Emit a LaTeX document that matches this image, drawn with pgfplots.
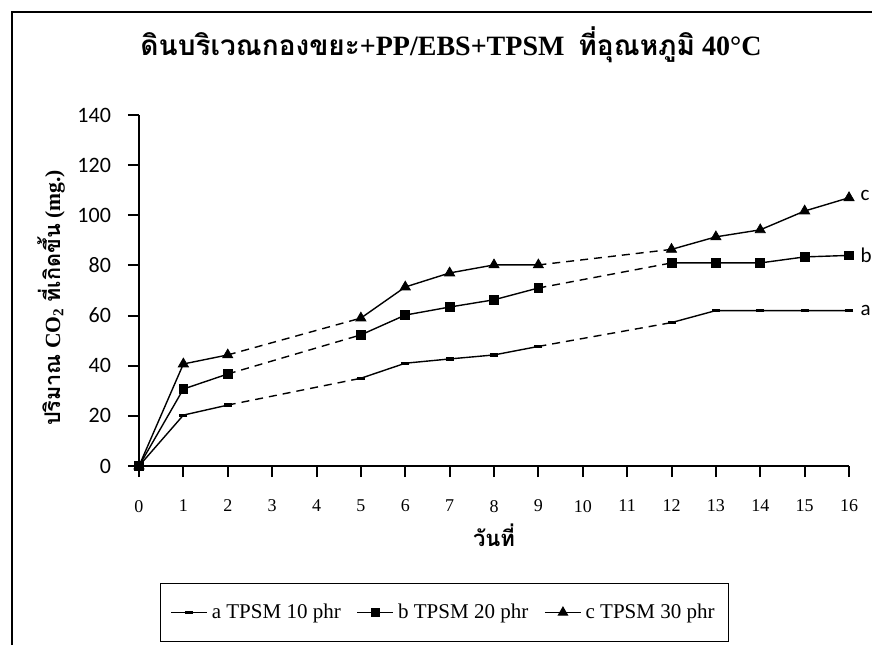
\documentclass[border=0pt]{standalone}
\usepackage{fontspec}
\setmainfont{Liberation Serif}
\newfontfamily\thai[Script=Thai]{Loma}
\newfontfamily\calib{Carlito}
\usepackage{pgfplots}
\pgfplotsset{compat=1.18}
\usepackage{pgfplotstable}

% CO2 evolved (mg) per day, three TPSM loadings
\pgfplotstableread{
day val
0 0
1 20.3
2 24.3
5 35.0
6 41.0
7 42.7
8 44.3
9 47.7
12 57.2
13 62.0
14 62.0
15 62.0
16 62.0
}\seriesA
\pgfplotstableread{
day val
0 0
1 30.7
2 36.7
5 52.3
6 60.2
7 63.4
8 66.3
9 71.0
12 81.0
13 81.0
14 81.0
15 83.4
16 84.0
}\seriesB
\pgfplotstableread{
day val
0 0
1 40.7
2 44.3
5 59.0
6 71.4
7 77.0
8 80.2
9 80.2
12 86.4
13 91.4
14 94.2
15 101.7
16 107.0
}\seriesC

\pgfplotsset{
  solidseg/.style={black, line width=0.7pt, no marks, forget plot},
  gapseg/.style={black, line width=0.7pt, no marks, forget plot, dash pattern=on 4pt off 3pt},
}

% solid runs on measured days, dashed across the days without readings
\newcommand\drawseries[2]{%
  \addplot[solidseg, restrict x to domain=0:2]  table[x=day,y=val]{#1};
  \addplot[gapseg,   restrict x to domain=2:5]  table[x=day,y=val]{#1};
  \addplot[solidseg, restrict x to domain=5:9]  table[x=day,y=val]{#1};
  \addplot[gapseg,   restrict x to domain=9:12] table[x=day,y=val]{#1};
  \addplot[solidseg, restrict x to domain=12:16] table[x=day,y=val]{#1};
  \addplot[only marks, forget plot, black, #2] table[x=day,y=val]{#1};
}

\begin{document}
\begin{tikzpicture}[x=1pt,y=1pt]
\useasboundingbox (0,0) rectangle (436,322.5);
% outer frame (left and top edges)
\draw[line width=1pt] (6,0) -- (6,316.5) -- (436,316.5);

\begin{axis}[
  at={(69.5pt,89.5pt)}, anchor=south west,
  scale only axis, width=355pt, height=175.5pt,
  xmin=0, xmax=16, ymin=0, ymax=140,
  clip=false,
  axis lines=left,
  axis line style={-, line width=1pt},
  tick style={line width=1pt, black},
  major tick length=5.5pt,
  tick align=outside,
  xtick={0,...,16},
  ytick={0,20,...,140},
  xticklabel style={font=\fontsize{9}{10}\selectfont, yshift=-8pt},
  yticklabel style={font=\calib\fontsize{11}{12}\selectfont, xshift=-5pt},
  /pgf/number format/assume math mode=true,
  legend columns=3,
  legend style={at={(0.4303,-0.4174)}, anchor=center, draw=black, line width=0.6pt,
    font=\fontsize{10.5}{12}\selectfont, inner xsep=5pt, inner ysep=8pt,
    /tikz/every even column/.append style={column sep=6pt}},
  legend image code/.code={\draw[mark repeat=2,mark phase=2,#1] plot coordinates {(0pt,0pt) (9pt,0pt) (18pt,0pt)};},
]
\drawseries{\seriesA}{mark=-, mark size=2pt, mark options={line width=1.6pt}}
\drawseries{\seriesB}{mark=square*, mark size=2.2pt}
\drawseries{\seriesC}{mark=triangle*, mark size=2.9pt}

\addlegendimage{black, line width=0.7pt, mark=-, mark size=2pt, mark options={line width=1.6pt}}
\addlegendentry{a TPSM 10 phr}
\addlegendimage{black, line width=0.7pt, mark=square*, mark size=2pt}
\addlegendentry{b TPSM 20 phr}
\addlegendimage{black, line width=0.7pt, mark=triangle*, mark size=2.5pt}
\addlegendentry{c TPSM 30 phr}

\node[right, font=\calib\fontsize{10.5}{11}\selectfont] at (axis cs:16.1,62) {a};
\node[right, font=\calib\fontsize{10.5}{11}\selectfont] at (axis cs:16.1,84) {b};
\node[right, font=\calib\fontsize{10.5}{11}\selectfont] at (axis cs:16.1,108) {c};
\end{axis}

% title
\node[font=\fontsize{14}{16}\selectfont\bfseries] at (225.5,300)
  {{\thai ดินบริเวณกองขยะ}+PP/EBS+TPSM\ \ {\thai ที่อุณหภูมิ} 40°C};
% axis titles
\node[rotate=90, font=\fontsize{10.8}{12}\selectfont\bfseries] at (25.5,173.5)
  {{\thai ปริมาณ} CO\textsubscript{2} {\thai ที่เกิดขึ้น} (mg.)};
\node[font=\fontsize{11}{12}\selectfont\bfseries] at (247,55) {\thai วันที่};
\end{tikzpicture}
\end{document}
